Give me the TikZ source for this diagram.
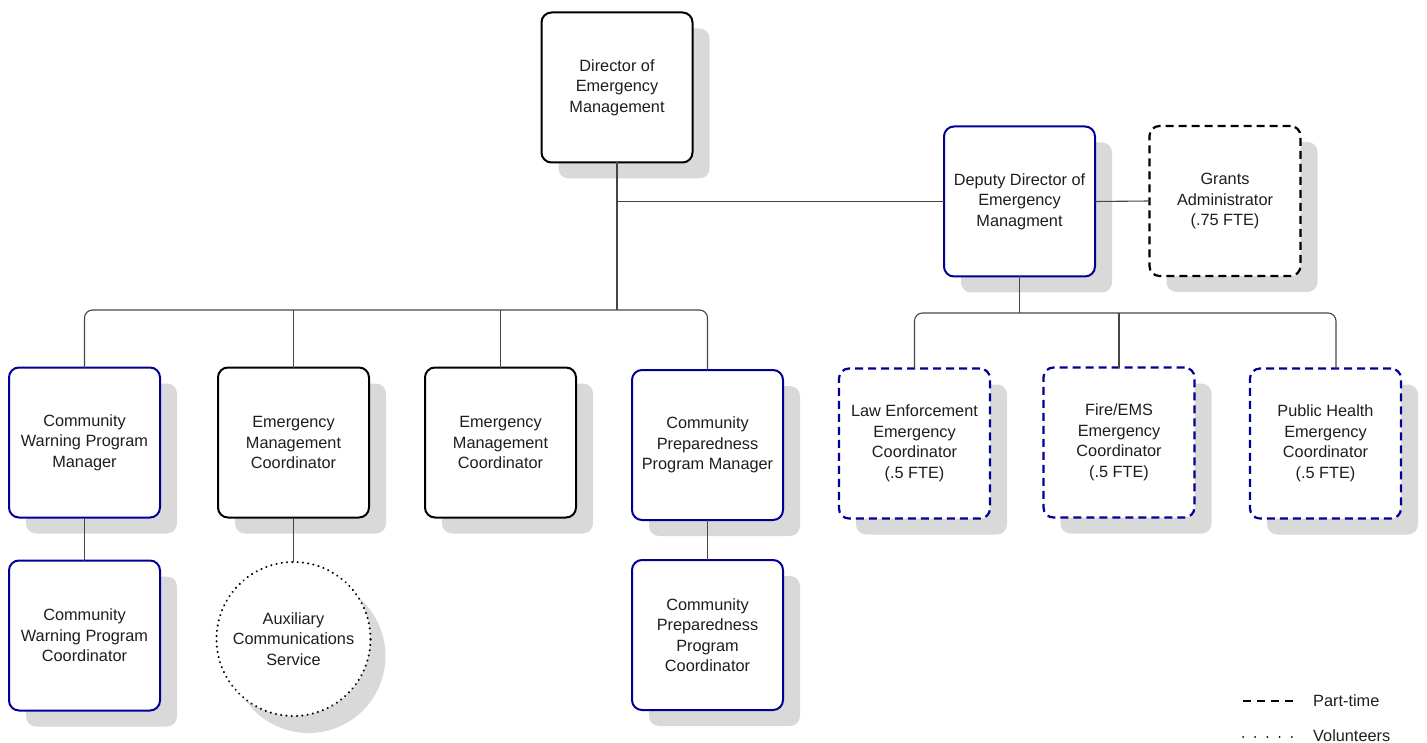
\documentclass[tikz,border=0pt]{standalone}
\usepackage{fontspec}
\setmainfont{Liberation Sans}
\usetikzlibrary{shadows}
\definecolor{navy}{RGB}{0,0,150}
\definecolor{shadowgray}{RGB}{217,217,217}
\definecolor{txt}{RGB}{30,30,30}
\definecolor{connc}{RGB}{70,70,70}
\begin{document}
\begin{tikzpicture}[x=1pt,y=-1pt,
  font=\fontsize{16.3}{20.5}\selectfont,
  card/.style={draw, rounded corners=10pt, fill=white, minimum width=151pt, minimum height=150pt,
    inner sep=0pt, outer sep=0pt, line width=2pt, align=center, text=txt,
    drop shadow={shadow xshift=17pt, shadow yshift=-16pt, fill=shadowgray, opacity=1}},
  blackcard/.style={card, draw=black},
  bluecard/.style={card, draw=navy},
  ptblue/.style={card, draw=navy, dash pattern=on 8pt off 5pt, line width=2.2pt},
  ptblack/.style={card, draw=black, dash pattern=on 8pt off 5pt, line width=2.2pt},
  volcircle/.style={draw=black, circle, minimum size=154pt, inner sep=0pt, outer sep=0pt, fill=white,
    line width=2.3pt, line cap=round, dash pattern=on 0.01pt off 5.3pt, align=center, text=txt,
    drop shadow={shadow xshift=15pt, shadow yshift=-17pt, fill=shadowgray, opacity=1}},
  conn/.style={draw=connc, line width=1.1pt},
  legtext/.style={anchor=west, text=txt, inner sep=0pt}
]
\useasboundingbox (0,0) rectangle (1427,743);

% top level
\node[blackcard] (dir) at (617,87.5) {Director of\\Emergency\\Management};
\node[bluecard] (dep) at (1019.5,201.5) {Deputy Director of\\Emergency\\Managment};
\node[ptblack] (grants) at (1225,201) {Grants\\Administrator\\(.75 FTE)};

% second row left
\node[bluecard] (cwpm) at (84.5,442.5) {Community\\Warning Program\\Manager};
\node[blackcard] (emc1) at (293.5,442.5) {Emergency\\Management\\Coordinator};
\node[blackcard] (emc2) at (500.5,442.5) {Emergency\\Management\\Coordinator};
\node[bluecard] (cppm) at (707.5,445) {Community\\Preparedness\\Program Manager};

% second row right
\node[ptblue] (leec) at (914.5,443.5) {Law Enforcement\\Emergency\\Coordinator\\(.5 FTE)};
\node[ptblue] (fire) at (1119,442.5) {Fire/EMS\\Emergency\\Coordinator\\(.5 FTE)};
\node[ptblue] (ph) at (1325.5,443.5) {Public Health\\Emergency\\Coordinator\\(.5 FTE)};

% third row
\node[bluecard] (cwpc) at (84.5,635.5) {Community\\Warning Program\\Coordinator};
\node[volcircle] (aux) at (293.5,639) {Auxiliary\\Communications\\Service};
\node[bluecard] (cppc) at (707.5,635) {Community\\Preparedness\\Program\\Coordinator};

% connectors
\coordinate (busL) at (617,310);
\coordinate (busR) at (1019.5,313);
\coordinate (phin) at (ph.north -| 1336,0);

\draw[conn] (dir.south) -- (busL);
\draw[conn] (dep.west) -- (dep.west -| dir.south);
\draw[conn] (dep.east) -- (grants.west);
\draw[conn, rounded corners=8pt] (cwpm.north) |- (busL) -| (cppm.north);
\draw[conn] (emc1.north) -- (emc1.north |- busL);
\draw[conn] (emc2.north) -- (emc2.north |- busL);

\draw[conn] (dep.south) -- (busR);
\draw[conn, rounded corners=8pt] (leec.north) |- (busR) -| (phin);
\draw[conn] (fire.north) -- (fire.north |- busR);

\draw[conn] (cwpm.south) -- (cwpc.north);
\draw[conn] (emc1.south) -- (aux.north);
\draw[conn] (cppm.south) -- (cppc.north);

% legend
\draw[black, line width=2pt, dash pattern=on 8pt off 6pt] (1243,701) -- (1293,701);
\node[legtext] (lpt) at (1313,701) {Part-time};
\draw[black, line width=2pt, line cap=round, dash pattern=on 0.01pt off 12.2pt] (1243,737) -- (1292,737);
\node[legtext] (lvol) at (1313,736) {Volunteers};
\end{tikzpicture}
\end{document}
